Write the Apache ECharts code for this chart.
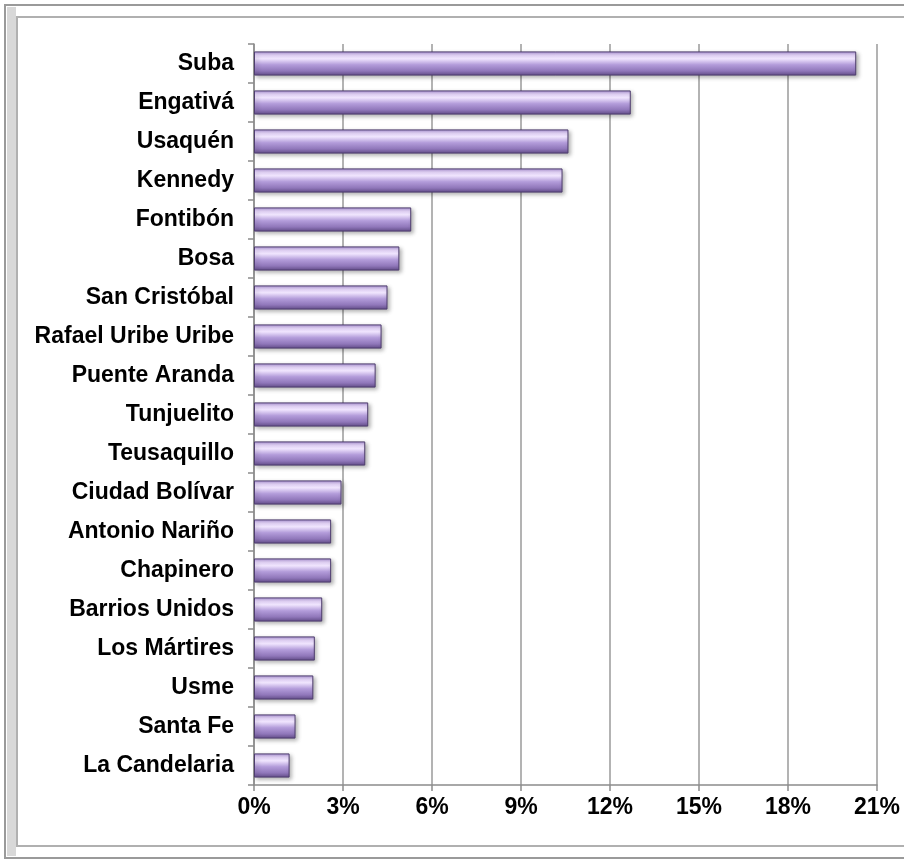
<!DOCTYPE html>
<html>
<head>
<meta charset="utf-8">
<script src="https://cdn.jsdelivr.net/npm/echarts@6/dist/echarts.min.js"></script>
<style>html,body{margin:0;padding:0;background:#fff}#c{width:904px;height:861px}</style>
</head>
<body>
<div id="c"></div>
<script>
const categories = ["Suba","Engativá","Usaquén","Kennedy","Fontibón","Bosa","San Cristóbal","Rafael Uribe Uribe","Puente Aranda","Tunjuelito","Teusaquillo","Ciudad Bolívar","Antonio Nariño","Chapinero","Barrios Unidos","Los Mártires","Usme","Santa Fe","La Candelaria"];
const values = [20.3,12.7,10.6,10.4,5.3,4.9,4.5,4.3,4.1,3.85,3.75,2.95,2.6,2.6,2.3,2.05,2.0,1.4,1.2];
const xTicks = [0,3,6,9,12,15,18,21];

const chart = echarts.init(document.getElementById('c'), null, {renderer:'canvas'});
const barGrad = new echarts.graphic.LinearGradient(0,0,0,1,[
  {offset:0,color:'#a98fd2'},
  {offset:0.15,color:'#e6d6fb'},
  {offset:0.3,color:'#f1e6ff'},
  {offset:0.55,color:'#b39cda'},
  {offset:0.8,color:'#9178bb'},
  {offset:1,color:'#634d8a'}
]);
chart.setOption({
  animation:false,
  backgroundColor:'#fff',
  graphic:[
    {type:'rect',shape:{x:5,y:5,width:920,height:853},style:{fill:'none',stroke:'#9a9a9a',lineWidth:2}},
    {type:'rect',shape:{x:17,y:17,width:900,height:829},style:{fill:'none',stroke:'#b0b0b0',lineWidth:2}},
    {type:'rect',shape:{x:7,y:7,width:9,height:849},style:{fill:'#d8d8d8'}}
  ],
  grid:{left:254,right:27,top:44,bottom:76,containLabel:false},
  xAxis:{
    type:'value',min:0,max:21,interval:3,
    axisLine:{show:true,lineStyle:{color:'#8c8c8c',width:1.5}},
    axisTick:{show:true,length:6,lineStyle:{color:'#8c8c8c',width:1.5}},
    splitLine:{show:true,lineStyle:{color:'#9a9a9a',width:1.5}},
    axisLabel:{formatter:v=>xTicks.includes(v)?v+'%':'',color:'#000',fontFamily:'Liberation Sans',fontWeight:'bold',fontSize:23,margin:11}
  },
  yAxis:{
    type:'category',data:categories,inverse:true,
    axisLine:{show:true,lineStyle:{color:'#8c8c8c',width:1.5}},
    axisTick:{show:true,length:6,lineStyle:{color:'#8c8c8c',width:1.5}},
    axisLabel:{color:'#000',fontFamily:'Liberation Sans',fontWeight:'bold',fontSize:23,margin:20}
  },
  series:[{
    type:'bar',data:values,barCategoryGap:'38%',
    itemStyle:{color:barGrad,borderColor:'#4e3d6e',borderWidth:1,shadowColor:'rgba(0,0,0,0.3)',shadowBlur:4,shadowOffsetX:2,shadowOffsetY:2}
  }]
});
</script>
</body>
</html>
